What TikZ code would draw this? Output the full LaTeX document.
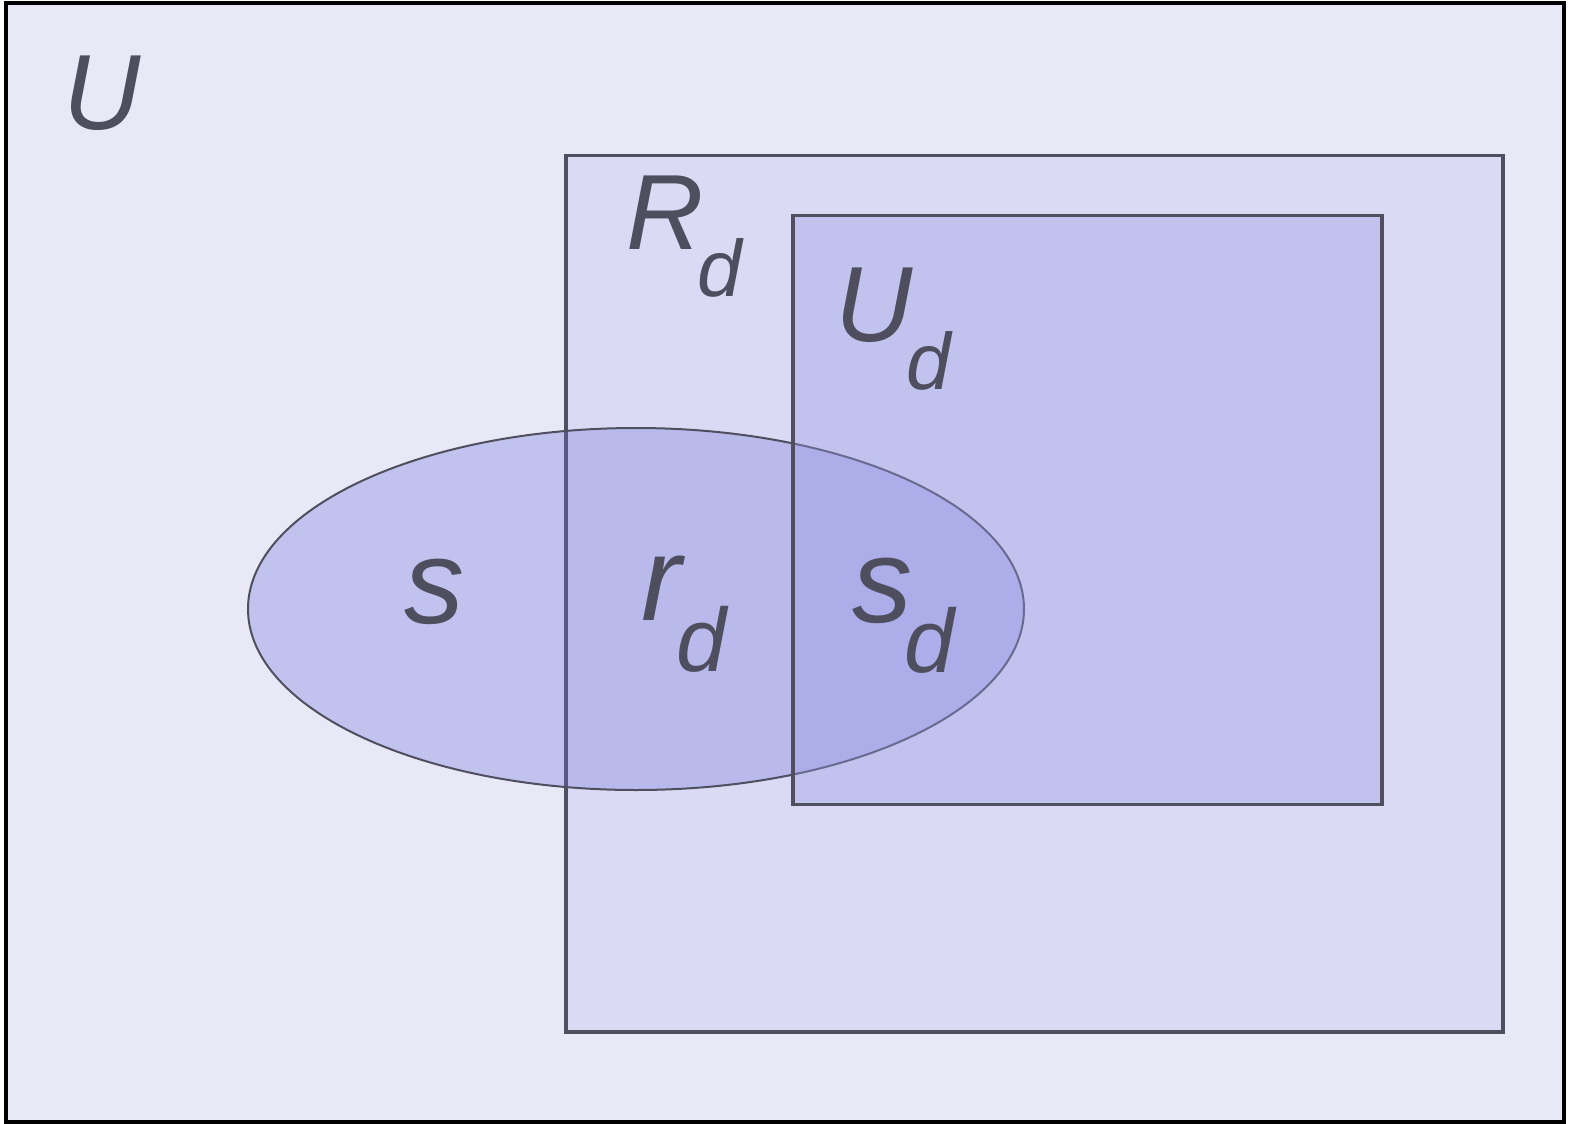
\documentclass[tikz,border=0pt]{standalone}
\usepackage{fontspec}
\setmainfont{Liberation Sans}
\definecolor{labc}{HTML}{4E4E5E}
\definecolor{linec}{HTML}{4F4F60}
\definecolor{bgU}{HTML}{E8E8F7}
\definecolor{bgR}{HTML}{DADAF4}
\definecolor{fillE}{RGB}{109,109,220}
\definecolor{fillUd}{RGB}{154,154,230}
\begin{document}
\begin{tikzpicture}[x=1pt,y=-1pt,
  bigl/.style={inner sep=0pt, outer sep=0pt, anchor=base west, text=labc, font=\fontsize{107}{107}\selectfont\itshape},
  bigs/.style={inner sep=0pt, outer sep=0pt, anchor=base west, text=labc, font=\fontsize{80}{80}\selectfont\itshape},
  lowl/.style={inner sep=0pt, outer sep=0pt, anchor=base west, text=labc, font=\fontsize{120}{120}\selectfont\itshape},
  lows/.style={inner sep=0pt, outer sep=0pt, anchor=base west, text=labc, font=\fontsize{90}{90}\selectfont\itshape},
  setbox/.style={draw=linec, line width=3.5pt}]
\useasboundingbox (0,0) rectangle (1575,1124);
% universe
\draw[line width=4pt, draw=black, fill=bgU] (6,3.5) rectangle (1564,1122);
% R_d
\draw[setbox, fill=bgR] (566,155.5) rectangle (1503,1032);
% ellipse s
\draw[draw=linec, line width=2pt, fill=fillE, fill opacity=0.3] (636,609) ellipse [x radius=388, y radius=181];
% U_d
\draw[setbox, fill=fillUd, fill opacity=0.36] (793,215.5) rectangle (1382,804.5);
% labels
\node[bigl] (labU) at (63,129) {U};
\node[bigl] (labR) at (626,249) {R};
\node[bigs] (labRd) at (697,296) {d};
\node[bigl] (labUd) at (835,341) {U};
\node[bigs] (labUdd) at (906,389) {d};
\node[lowl] (labs) at (404,623) {s};
\node[lowl] (labr) at (641,620) {r};
\node[lows] (labrd) at (676,671) {d};
\node[lowl] (labsd) at (852,622) {s};
\node[lows] (labsdd) at (904,672) {d};
\end{tikzpicture}
\end{document}
